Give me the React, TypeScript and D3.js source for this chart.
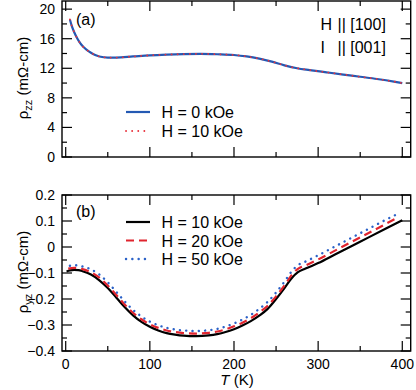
import React, { useEffect, useRef } from 'react';
import * as d3 from 'd3';

// panel (a): rho_zz vs T
const tempA = [5, 7, 10, 13, 16, 20, 25, 30, 35, 40, 50, 60, 80, 100, 120, 140, 160, 180, 200, 215, 230, 245, 260, 275, 290, 310, 330, 350, 370, 390, 400];
const rhoZz0 = [18.6, 17.8, 16.9, 16.2, 15.6, 15.0, 14.5, 14.1, 13.8, 13.6, 13.45, 13.45, 13.6, 13.75, 13.85, 13.92, 13.95, 13.9, 13.8, 13.6, 13.3, 12.9, 12.4, 12.0, 11.75, 11.45, 11.15, 10.85, 10.55, 10.2, 10.0];
const rhoZz10 = [18.6, 17.8, 16.9, 16.2, 15.6, 15.0, 14.5, 14.1, 13.8, 13.6, 13.45, 13.45, 13.6, 13.75, 13.85, 13.92, 13.95, 13.9, 13.8, 13.6, 13.3, 12.9, 12.4, 12.0, 11.75, 11.45, 11.15, 10.85, 10.55, 10.2, 10.0];

// panel (b): rho_yz vs T
const tempB10 = [1, 5, 10, 15, 20, 30, 40, 50, 60, 70, 80, 90, 100, 110, 120, 130, 140, 155, 170, 180, 190, 200, 210, 220, 230, 240, 250, 260, 268, 276, 285, 300, 320, 340, 360, 380, 400];
const rhoYz10 = [-0.094, -0.09, -0.088, -0.089, -0.093, -0.106, -0.128, -0.158, -0.194, -0.231, -0.263, -0.288, -0.307, -0.321, -0.331, -0.337, -0.341, -0.343, -0.340, -0.335, -0.327, -0.316, -0.302, -0.285, -0.264, -0.238, -0.200, -0.158, -0.122, -0.097, -0.083, -0.062, -0.029, 0.004, 0.037, 0.070, 0.103];
const tempB20 = [3, 10, 20, 30, 40, 50, 60, 70, 80, 90, 100, 110, 120, 130, 140, 155, 170, 180, 190, 200, 210, 220, 230, 240, 250, 260, 268, 276, 285, 300, 320, 340, 360, 380, 395];
const rhoYz20 = [-0.083, -0.080, -0.085, -0.097, -0.118, -0.148, -0.184, -0.221, -0.253, -0.278, -0.297, -0.311, -0.321, -0.327, -0.331, -0.333, -0.330, -0.325, -0.317, -0.305, -0.291, -0.274, -0.252, -0.226, -0.190, -0.148, -0.110, -0.084, -0.071, -0.048, -0.014, 0.020, 0.054, 0.088, 0.114];
const tempB50 = [5, 10, 20, 30, 40, 50, 60, 70, 80, 90, 100, 110, 120, 130, 140, 155, 170, 180, 190, 200, 210, 220, 230, 240, 250, 260, 268, 276, 285, 300, 320, 340, 360, 380, 395];
const rhoYz50 = [-0.072, -0.070, -0.075, -0.086, -0.106, -0.136, -0.172, -0.209, -0.242, -0.267, -0.287, -0.301, -0.311, -0.317, -0.321, -0.323, -0.320, -0.315, -0.306, -0.294, -0.279, -0.261, -0.238, -0.211, -0.175, -0.133, -0.096, -0.070, -0.056, -0.032, 0.002, 0.036, 0.070, 0.104, 0.128];

const xTicks = [0, 100, 200, 300, 400];
const xMinor = [50, 150, 250, 350];
const yTicksA = [0, 4, 8, 12, 16, 20];
const yMinorA = [2, 6, 10, 14, 18];
const yTicksB = [-0.4, -0.3, -0.2, -0.1, 0, 0.1, 0.2];
const yMinorB = [-0.35, -0.25, -0.15, -0.05, 0.05, 0.15];

const FONT = '"Liberation Sans", Arial, Helvetica, sans-serif';

function Chart() {
    const svgRef = useRef(null);

    useEffect(() => {
        const svg = d3.select(svgRef.current);
        svg.selectAll('*').remove();

        const left = 62, right = 410.7;
        const x = d3.scaleLinear().domain([-4.4, 410]).range([left, right]);
        const yA = d3.scaleLinear().domain([0, 21.1]).range([157, 1]);
        const yB = d3.scaleLinear().domain([-0.4, 0.2]).range([351, 195]);

        const drawFrame = (y, top, bottom, ticks, minor, fmt, id) => {
            svg.append('clipPath').attr('id', id)
                .append('rect').attr('x', left).attr('y', top)
                .attr('width', right - left).attr('height', bottom - top);

            const g = svg.append('g').attr('stroke', '#000').attr('stroke-width', 1.2);
            // x ticks, bottom and top, pointing inward
            xTicks.forEach(t => {
                g.append('line').attr('x1', x(t)).attr('x2', x(t)).attr('y1', bottom).attr('y2', bottom - 10);
                g.append('line').attr('x1', x(t)).attr('x2', x(t)).attr('y1', top).attr('y2', top + 10);
            });
            xMinor.forEach(t => {
                g.append('line').attr('x1', x(t)).attr('x2', x(t)).attr('y1', bottom).attr('y2', bottom - 5);
                g.append('line').attr('x1', x(t)).attr('x2', x(t)).attr('y1', top).attr('y2', top + 5);
            });
            ticks.forEach(v => {
                g.append('line').attr('x1', left).attr('x2', left + 10).attr('y1', y(v)).attr('y2', y(v));
                g.append('line').attr('x1', right).attr('x2', right - 10).attr('y1', y(v)).attr('y2', y(v));
            });
            minor.forEach(v => {
                g.append('line').attr('x1', left).attr('x2', left + 5).attr('y1', y(v)).attr('y2', y(v));
                g.append('line').attr('x1', right).attr('x2', right - 5).attr('y1', y(v)).attr('y2', y(v));
            });
            g.append('rect').attr('x', left).attr('y', top)
                .attr('width', right - left).attr('height', bottom - top)
                .attr('fill', 'none').attr('stroke-width', 1.4);

            svg.append('g').selectAll('text').data(ticks).join('text')
                .attr('x', 55).attr('y', d => y(d)).attr('dy', '0.36em')
                .attr('text-anchor', 'end')
                .style('font-family', FONT).style('font-size', '14px')
                .text(fmt);
        };

        drawFrame(yA, 1, 157, yTicksA, yMinorA, d => String(d), 'clipA');
        drawFrame(yB, 195, 351, yTicksB, yMinorB, d => (d === 0 ? '0' : d3.format('.1f')(d)), 'clipB');

        // x tick labels on bottom panel
        svg.append('g').selectAll('text').data(xTicks).join('text')
            .attr('x', d => x(d)).attr('y', 369)
            .attr('text-anchor', 'middle')
            .style('font-family', FONT).style('font-size', '14px')
            .text(d => d);

        const lineA = (ys) => d3.line().x((d, i) => x(tempA[i])).y(d => yA(d)).curve(d3.curveMonotoneX)(ys);
        const lineB = (ts, ys) => d3.line().x((d, i) => x(ts[i])).y(d => yB(d)).curve(d3.curveMonotoneX)(ys);

        const pA = svg.append('g').attr('clip-path', 'url(#clipA)').attr('fill', 'none');
        pA.append('path').attr('d', lineA(rhoZz0)).attr('stroke', '#2459b3').attr('stroke-width', 2.2);
        pA.append('path').attr('d', lineA(rhoZz10)).attr('stroke', '#e8323c').attr('stroke-width', 1.8)
            .attr('stroke-dasharray', '0.1,6').attr('stroke-linecap', 'round');

        const pB = svg.append('g').attr('clip-path', 'url(#clipB)').attr('fill', 'none');
        pB.append('path').attr('d', lineB(tempB10, rhoYz10)).attr('stroke', '#000').attr('stroke-width', 2.2);
        pB.append('path').attr('d', lineB(tempB20, rhoYz20)).attr('stroke', '#e0242e').attr('stroke-width', 2.2)
            .attr('stroke-dasharray', '8,5');
        pB.append('path').attr('d', lineB(tempB50, rhoYz50)).attr('stroke', '#2b62c8').attr('stroke-width', 2.4)
            .attr('stroke-dasharray', '0.1,6.2').attr('stroke-linecap', 'round');

        // legends
        const legend = (items, y0, dy) => {
            items.forEach((it, i) => {
                const yy = y0 + i * dy;
                const l = svg.append('line').attr('x1', 126).attr('x2', 150).attr('y1', yy).attr('y2', yy)
                    .attr('stroke', it.color).attr('stroke-width', it.w);
                if (it.dash) l.attr('stroke-dasharray', it.dash);
                if (it.cap) l.attr('stroke-linecap', it.cap);
                svg.append('text').attr('x', 161.5).attr('y', yy + 6)
                    .style('font-family', FONT).style('font-size', '16px')
                    .text(it.label);
            });
        };
        legend([
            { label: 'H = 0 kOe', color: '#2459b3', w: 2.2 },
            { label: 'H = 10 kOe', color: '#e8323c', w: 1.8, dash: '0.1,6', cap: 'round' },
        ], 112, 19);
        legend([
            { label: 'H = 10 kOe', color: '#000', w: 2.2 },
            { label: 'H = 20 kOe', color: '#e0242e', w: 2.2, dash: '8,5' },
            { label: 'H = 50 kOe', color: '#2b62c8', w: 2.4, dash: '0.1,6.2', cap: 'round' },
        ], 222, 18.5);

        const txt = (s, xx, yy, anchor = 'start', size = 16) =>
            svg.append('text').attr('x', xx).attr('y', yy).attr('text-anchor', anchor)
                .style('font-family', FONT).style('font-size', size + 'px').text(s);

        txt('(a)', 76, 25);
        txt('(b)', 76, 217);
        txt('H', 320.5, 30);
        txt('|| [100]', 337.5, 30);
        txt('I', 320.5, 53);
        txt('|| [001]', 337.5, 53);

        // x axis title
        const xt = svg.append('text').attr('x', 237).attr('y', 385).attr('text-anchor', 'middle')
            .style('font-family', FONT).style('font-size', '15px');
        xt.append('tspan').style('font-style', 'italic').text('T');
        xt.append('tspan').text(' (K)');

        // y axis titles
        const yTitle = (cy, sub) => {
            const t = svg.append('text').attr('transform', `translate(28,${cy}) rotate(-90)`)
                .attr('text-anchor', 'middle')
                .style('font-family', FONT).style('font-size', '15px');
            t.append('tspan').text('ρ');
            t.append('tspan').attr('dy', 4).style('font-size', '11px').text(sub);
            t.append('tspan').attr('dy', -4).text(' (mΩ-cm)');
        };
        yTitle(78, 'zz');
        yTitle(272, 'yz');
    }, []);

    return <svg ref={svgRef} width={416} height={390}
                style={{ position: 'absolute', left: 0, top: 0, background: '#fff' }}/>;
}

export default function App() {
    return <Chart/>;
}
